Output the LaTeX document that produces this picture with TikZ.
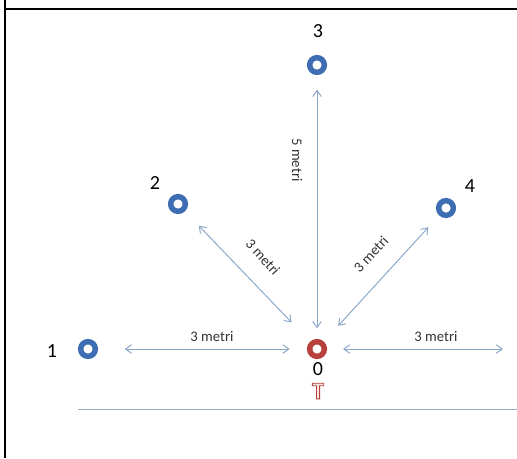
\documentclass[tikz,border=0pt]{standalone}
\usepackage{fontspec}
\setmainfont{Carlito}
\usetikzlibrary{arrows.meta, positioning}
\definecolor{ringblue}{HTML}{3F6DB3}
\definecolor{ringred}{HTML}{B8403D}
\definecolor{dimblue}{HTML}{8DA8C8}
\definecolor{tpink}{HTML}{FBE6E6}
\definecolor{groundblue}{HTML}{95AFCB}
\tikzset{>={Straight Barb[length=4.5pt,width=6.5pt]}}
\newcommand{\outlinetee}{\special{pdf:literal direct 2 Tr 0.7 w 0.72 0.25 0.24 RG}T\special{pdf:literal direct 0 Tr}}

\begin{document}
\begin{tikzpicture}[x=0.75pt,y=-0.75pt, font=\fontsize{11}{13}\selectfont,
		ring/.style={circle, draw=ringblue, line width=4.1pt, fill=white, minimum size=11pt, inner sep=0pt},
		num/.style={font=\fontsize{15}{17}\selectfont},
		dim/.style={<->, dimblue, line width=0.75pt},
		dimlabel/.style={text=black!80}]
		\useasboundingbox (0,0) rectangle (517,458);
		\draw[line width=1.5pt] (5,0) -- (5,458);
		\draw[line width=1.5pt] (5,9) -- (517,9);
		\draw[groundblue, line width=0.75pt] (78,409) -- (517,409);
		
		\node[ring, draw=ringred] (P0) at (317,349) {};
		\node[ring] (P1) at (88,349) {};
		\node[ring] (P2) at (178,204) {};
		\node[ring] (P3) at (317,65) {};
		\node[ring] (P4) at (446,208) {};
		\coordinate (E) at (503,349);
		
		\node[num] (n0) at (318,369) {0};
		\node[num] (n1) at (52,351) {1};
		\node[num] (n2) at (155,183) {2};
		\node[num] (n3) at (318,31) {3};
		\node[num] (n4) at (470,186) {4};
		\node[text=tpink, font=\fontsize{18}{20}\bfseries] (tee) at (318,391) {\outlinetee};
		
		\draw[dim, shorten <=20pt, shorten >=13pt] (P1) -- (P0);
		\draw[dim, shorten <=12pt] (P0) -- (E);
		\draw[dim, shorten <=11pt, shorten >=8pt] (P3) -- (P0);
		\draw[dim, shorten <=15pt, shorten >=20pt] (P2) -- (P0);
		\draw[dim, shorten <=12pt, shorten >=16pt] (P4) -- (P0);
		
		\node[dimlabel] (d1) at (212,336) {3 metri};
		\node[dimlabel] (d0) at (436,336) {3 metri};
		\node[dimlabel, rotate=-90] (d3) at (297,160) {5 metri};
		\node[dimlabel, rotate=-48] (d2) at (263,257) {3 metri};
		\node[dimlabel, rotate=47] (d4) at (371,254) {3 metri};
\end{tikzpicture}
\end{document}
